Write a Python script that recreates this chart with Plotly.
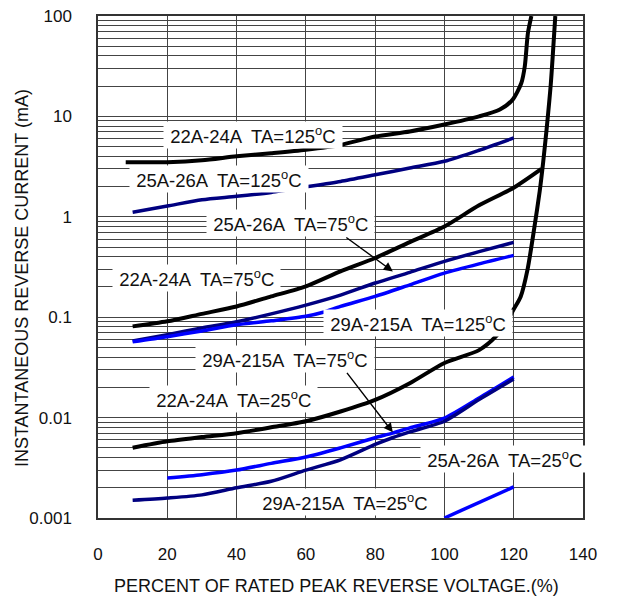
import math
import plotly.graph_objects as go

# ---- data ----
x_22_125 = [8, 20, 30, 40, 50, 60, 70, 80, 90, 100, 110, 116, 119.7, 122.2, 123.2, 124.1, 125.1]
y_22_125 = [3.5, 3.5, 3.65, 4.0, 4.3, 4.66, 5.2, 6.3, 7.08, 8.3, 10.0, 11.7, 14.7, 21.5, 31.6, 67.6, 100]

x_22_75 = [10, 20, 30, 40, 50, 60, 70, 80, 90, 100, 110, 120, 128]
y_22_75 = [0.081, 0.091, 0.108, 0.128, 0.161, 0.203, 0.286, 0.389, 0.56, 0.80, 1.3, 1.95, 3.0]

x_22_25 = [10, 20, 30, 40, 50, 60, 70, 80, 90, 100, 110, 115, 118, 120, 122, 124, 126, 127.5, 128.5, 129.5, 130.7, 132]
y_22_25 = [0.005, 0.0058, 0.0064, 0.007, 0.008, 0.0092, 0.0115, 0.015, 0.022, 0.035, 0.047, 0.065,
           0.09, 0.12, 0.16, 0.3, 0.8, 1.8, 3.5, 7.5, 21, 100]

x_25_125 = [10, 20, 30, 40, 50, 60, 70, 80, 90, 100, 110, 120]
y_25_125 = [1.11, 1.28, 1.48, 1.6, 1.75, 1.98, 2.25, 2.62, 3.06, 3.57, 4.6, 6.1]

x_25_75 = [10, 20, 30, 40, 50, 60, 70, 80, 90, 100, 110, 120]
y_25_75 = [0.058, 0.067, 0.078, 0.09, 0.108, 0.132, 0.166, 0.219, 0.28, 0.36, 0.45, 0.556]

x_29_125 = [10, 20, 30, 40, 50, 60, 65, 70, 80, 90, 100, 110, 120]
y_29_125 = [0.057, 0.064, 0.073, 0.084, 0.092, 0.102, 0.112, 0.128, 0.161, 0.21, 0.275, 0.34, 0.413]

x_29_75 = [20, 30, 40, 50, 60, 70, 80, 85, 90, 100, 110, 120]
y_29_75 = [0.0025, 0.0027, 0.003, 0.0035, 0.00405, 0.005, 0.0063, 0.007, 0.0079, 0.0099, 0.0157, 0.0254]

x_29_25 = [10, 20, 30, 40, 50, 60, 70, 80, 85, 90, 100, 110, 120]
y_29_25 = [0.0015, 0.00158, 0.0017, 0.002, 0.00232, 0.003, 0.0038, 0.0054, 0.0063, 0.0072, 0.0092, 0.0151, 0.0242]

x_25_25 = [100, 120]
y_25_25 = [0.001, 0.00204]

x_ticks = [0, 20, 40, 60, 80, 100, 120, 140]
y_decades = [0.001, 0.01, 0.1, 1, 10, 100]
y_decade_labels = ["0.001", "0.01", "0.1", "1", "10", "100"]

x_title = "PERCENT OF RATED PEAK REVERSE VOLTAGE.(%)"
y_title = "INSTANTANEOUS REVERSE CURRENT (mA)"

labels = [
    ("22A-24A  TA=125<sup>o</sup>C", 44.8, 6.6),
    ("25A-26A  TA=125<sup>o</sup>C", 34.8, 2.36),
    ("25A-26A  TA=75<sup>o</sup>C", 55.6, 0.874),
    ("22A-24A  TA=75<sup>o</sup>C", 28.4, 0.244),
    ("29A-215A  TA=125<sup>o</sup>C", 92.3, 0.0881),
    ("29A-215A  TA=75<sup>o</sup>C", 53.9, 0.038),
    ("22A-24A  TA=25<sup>o</sup>C", 39.2, 0.0152),
    ("25A-26A  TA=25<sup>o</sup>C", 117.4, 0.00383),
    ("29A-215A  TA=25<sup>o</sup>C", 71.2, 0.00145),
]
# arrows: tip x, tip y, tail offset (px)
arrows = [
    (85.1, 0.286, -48, -35),
    (85.1, 0.00713, -47, -61),
]

BLACK = "#000000"
NAVY = "#000080"
BLUE = "#0000FF"

series = [
    (x_22_125, y_22_125, BLACK, 4),
    (x_22_75, y_22_75, BLACK, 4),
    (x_22_25, y_22_25, BLACK, 4),
    (x_25_125, y_25_125, NAVY, 3.5),
    (x_25_75, y_25_75, NAVY, 3.5),
    (x_29_125, y_29_125, BLUE, 3.5),
    (x_29_75, y_29_75, BLUE, 3.5),
    (x_29_25, y_29_25, NAVY, 3.5),
    (x_25_25, y_25_25, BLUE, 3.5),
]

fig = go.Figure()
for xs, ys, col, w in series:
    fig.add_trace(go.Scatter(x=xs, y=ys, mode="lines",
                             line=dict(color=col, width=w, shape="spline", smoothing=0.7),
                             showlegend=False, hoverinfo="skip"))

# y grid at every 1..9 x 10^k
y_tickvals, y_ticktext = [], []
for k in range(-3, 2):
    for m in range(1, 10):
        v = m * 10 ** k
        y_tickvals.append(v)
        y_ticktext.append(y_decade_labels[y_decades.index(v)] if m == 1 else "")
y_tickvals.append(100)
y_ticktext.append("100")

FONT = "Liberation Sans, Arial, sans-serif"
NBSP = "\u00a0"

annotations = []
for txt, x, y in labels:
    annotations.append(dict(x=x, y=math.log10(y), xref="x", yref="y", text=NBSP + txt + NBSP,
                            showarrow=False, bgcolor="white", borderpad=1,
                            font=dict(family=FONT, size=18.5, color="#111")))
for x, y, ax, ay in arrows:
    annotations.append(dict(x=x, y=math.log10(y), xref="x", yref="y", text="",
                            showarrow=True, ax=ax, ay=ay, arrowhead=2, arrowsize=1.3,
                            arrowwidth=1.4, arrowcolor="black"))
# axis titles
annotations.append(dict(x=0.491, y=-0.1355, xref="paper", yref="paper", text=x_title,
                        showarrow=False, xanchor="center", yanchor="middle",
                        font=dict(family=FONT, size=18, color="#111")))
annotations.append(dict(x=-0.1577, y=0.477, xref="paper", yref="paper", text=y_title,
                        showarrow=False, xanchor="center", yanchor="middle", textangle=-90,
                        font=dict(family=FONT, size=18, color="#111")))

# page has an 8px body margin: figure is offset by 8px
fig.update_layout(
    width=610, height=588,
    margin=dict(l=90, r=35, t=8, b=78),
    paper_bgcolor="white", plot_bgcolor="white",
    font=dict(family=FONT, size=17, color="#111"),
    annotations=annotations,
    xaxis=dict(range=[0, 140], tickvals=x_ticks, showgrid=True, gridcolor="#444", gridwidth=1,
               zeroline=False, showline=True, linecolor="#333", linewidth=1.5, mirror=True,
               ticks="", ticklabelstandoff=20, automargin=False, ticklabeloverflow="allow"),
    yaxis=dict(type="log", range=[-3, 2], tickvals=y_tickvals, ticktext=y_ticktext,
               showgrid=True, gridcolor="#444", gridwidth=1, zeroline=False,
               showline=True, linecolor="#333", linewidth=1.5, mirror=True,
               ticks="", ticklabelstandoff=21, automargin=False, ticklabeloverflow="allow"),
)

fig.write_html("out.html")
